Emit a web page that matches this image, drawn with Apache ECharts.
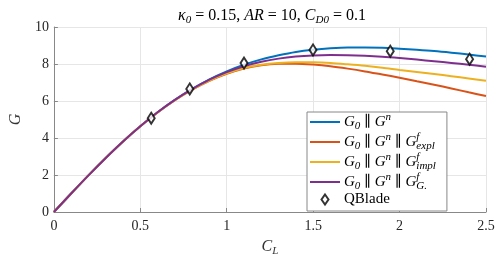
<!DOCTYPE html>
<html><head><meta charset="utf-8">
<script src="https://cdn.jsdelivr.net/npm/echarts@6/dist/echarts.min.js"></script>
<style>html,body{margin:0;padding:0;background:#fff}#c{width:500px;height:262px}</style>
</head><body><div id="c"></div>
<script>
// C_L grid
const CL = [0,0.1,0.2,0.3,0.4,0.5,0.6,0.7,0.8,0.9,1.0,1.1,1.2,1.3,1.4,1.5,1.6,1.7,1.8,1.9,2.0,2.1,2.2,2.3,2.4,2.5];
const G_n    = [0,1.00,1.98,2.92,3.81,4.63,5.39,6.06,6.65,7.17,7.60,7.96,8.25,8.47,8.65,8.77,8.85,8.89,8.89,8.88,8.83,8.77,8.70,8.61,8.51,8.40];
const G_expl = [0,1.00,1.98,2.92,3.81,4.63,5.38,6.04,6.61,7.09,7.47,7.76,7.93,8.01,8.02,7.97,7.88,7.75,7.60,7.43,7.26,7.07,6.88,6.68,6.47,6.27];
const G_impl = [0,1.00,1.98,2.92,3.81,4.63,5.38,6.04,6.62,7.10,7.49,7.78,7.96,8.06,8.10,8.09,8.05,7.98,7.90,7.80,7.68,7.57,7.46,7.34,7.22,7.10];
const G_G    = [0,1.00,1.98,2.92,3.81,4.63,5.39,6.06,6.64,7.15,7.56,7.88,8.12,8.29,8.40,8.46,8.48,8.47,8.44,8.39,8.32,8.24,8.15,8.06,7.96,7.85];
const qbladeCL = [0.563,0.786,1.10,1.499,1.946,2.405];
const qbladeG  = [5.07,6.65,8.05,8.76,8.69,8.26];
const xTicks = [0,0.5,1,1.5,2,2.5];
const yTicks = [0,2,4,6,8,10];

const names = ['A','B','C','D','QBlade'];
const colors = ['#0072BD','#D95319','#EDB120','#7E2F8E'];
const curves = [G_n, G_expl, G_impl, G_G];
const serif = 'Liberation Serif, DejaVu Serif, serif';
const legendText = {
  A: '{g|G}{s|0}{t| ∥ }{g|G}{p|n}',
  B: '{g|G}{s|0}{t| ∥ }{g|G}{p|n}{t| ∥ }{g|G}{pz|f}{s|expl}',
  C: '{g|G}{s|0}{t| ∥ }{g|G}{p|n}{t| ∥ }{g|G}{pz|f}{s|impl}',
  D: '{g|G}{s|0}{t| ∥ }{g|G}{p|n}{t| ∥ }{g|G}{pz|f}{s|G.}',
  QBlade: '{t|QBlade}'
};
const rich = {
  g: {fontFamily: serif, fontStyle: 'italic', fontSize: 15, lineHeight: 20, verticalAlign: 'middle', color: '#000'},
  t: {fontFamily: serif, fontSize: 15, lineHeight: 20, verticalAlign: 'middle', color: '#000'},
  s: {fontFamily: serif, fontStyle: 'italic', fontSize: 11, lineHeight: 11, verticalAlign: 'bottom', color: '#000'},
  p: {fontFamily: serif, fontStyle: 'italic', fontSize: 11, lineHeight: 11, verticalAlign: 'top', color: '#000'},
  pz: {fontFamily: serif, fontStyle: 'italic', fontSize: 11, lineHeight: 11, verticalAlign: 'top', color: '#000', width: 0.01, align: 'left'}
};
const lineIcon = 'path://M0,0 L30,0 L30,2 L0,2 Z';
const diamondIcon = 'path://M3.5,0 L7,5 L3.5,10 L0,5 Z';

const series = curves.map((arr, i) => ({
  name: names[i], type: 'line', showSymbol: false, smooth: 0.3,
  lineStyle: {color: colors[i], width: 2}, itemStyle: {color: colors[i]},
  data: CL.map((x, k) => [x, arr[k]]), z: 2 + i
}));
series.push({
  name: 'QBlade', type: 'scatter', symbol: 'diamond', symbolSize: [7, 11],
  itemStyle: {color: '#fff', borderColor: '#000', borderWidth: 2},
  data: qbladeCL.map((x, k) => [x, qbladeG[k]]), z: 10
});

const chart = echarts.init(document.getElementById('c'), null, {renderer: 'canvas'});
chart.setOption({
  animation: false,
  backgroundColor: '#fff',
  title: {
    text: '{k|κ}{s|0}{t| = 0.15, }{i|AR}{t| = 10, }{i|C}{s|D0}{t| = 0.1}',
    left: 267, top: 1, textAlign: 'center',
    textStyle: {fontWeight: 'normal', rich: {
      k: {fontFamily: serif, fontStyle: 'italic', fontWeight: 'normal', fontSize: 16, lineHeight: 20, color: '#000'},
      i: {fontFamily: serif, fontStyle: 'italic', fontWeight: 'normal', fontSize: 16, lineHeight: 20, color: '#000'},
      t: {fontFamily: serif, fontWeight: 'normal', fontSize: 16, lineHeight: 20, color: '#000'},
      s: {fontFamily: serif, fontStyle: 'italic', fontWeight: 'normal', fontSize: 11, lineHeight: 11, verticalAlign: 'bottom', color: '#000'}
    }}
  },
  grid: {left: 48, right: 14, top: 27, bottom: 49, containLabel: false},
  legend: {
    orient: 'vertical', left: 307, top: 112,
    data: names.map((n, i) => i < 4
      ? {name: n, icon: lineIcon, itemStyle: {color: colors[i], borderWidth: 0}}
      : {name: n, icon: diamondIcon, itemStyle: {color: '#fff', borderColor: '#000', borderWidth: 2}}),
    itemWidth: 30, itemHeight: 10, itemGap: 0,
    symbolKeepAspect: true,
    padding: [0, 11, 4, 3],
    backgroundColor: '#fff', borderColor: '#888', borderWidth: 1, borderRadius: 0,
    formatter: n => legendText[n],
    textStyle: {rich: rich, padding: [0, 0, 0, -1]}
  },
  xAxis: {
    type: 'value', min: 0, max: 2.5, interval: 0.5,
    name: '{i|C}{s|L}', nameLocation: 'middle', nameGap: 25,
    nameTextStyle: {rich: {
      i: {fontFamily: serif, fontStyle: 'italic', fontSize: 16, lineHeight: 20, color: '#333'},
      s: {fontFamily: serif, fontStyle: 'italic', fontSize: 11, lineHeight: 11, verticalAlign: 'bottom', color: '#333'}
    }},
    axisLine: {lineStyle: {color: '#888', width: 1}},
    axisTick: {inside: true, length: 4, lineStyle: {color: '#888'}},
    axisLabel: {fontFamily: serif, fontSize: 14, color: '#262626', margin: 7,
      formatter: v => xTicks.includes(v) ? String(v) : ''},
    splitLine: {show: true, lineStyle: {color: '#e6e6e6', width: 1}}
  },
  yAxis: {
    type: 'value', min: 0, max: 10, interval: 2,
    name: 'G', nameLocation: 'middle', nameGap: 26, nameRotate: 90,
    nameTextStyle: {fontFamily: serif, fontStyle: 'italic', fontSize: 16, color: '#333'},
    axisLine: {show: true, lineStyle: {color: '#888', width: 1}},
    axisTick: {show: true, inside: true, length: 4, lineStyle: {color: '#888'}},
    axisLabel: {fontFamily: serif, fontSize: 14, color: '#262626', margin: 5,
      formatter: v => yTicks.includes(v) ? String(v) : ''},
    splitLine: {show: true, lineStyle: {color: '#e6e6e6', width: 1}}
  },
  series: series
});
</script></body></html>
